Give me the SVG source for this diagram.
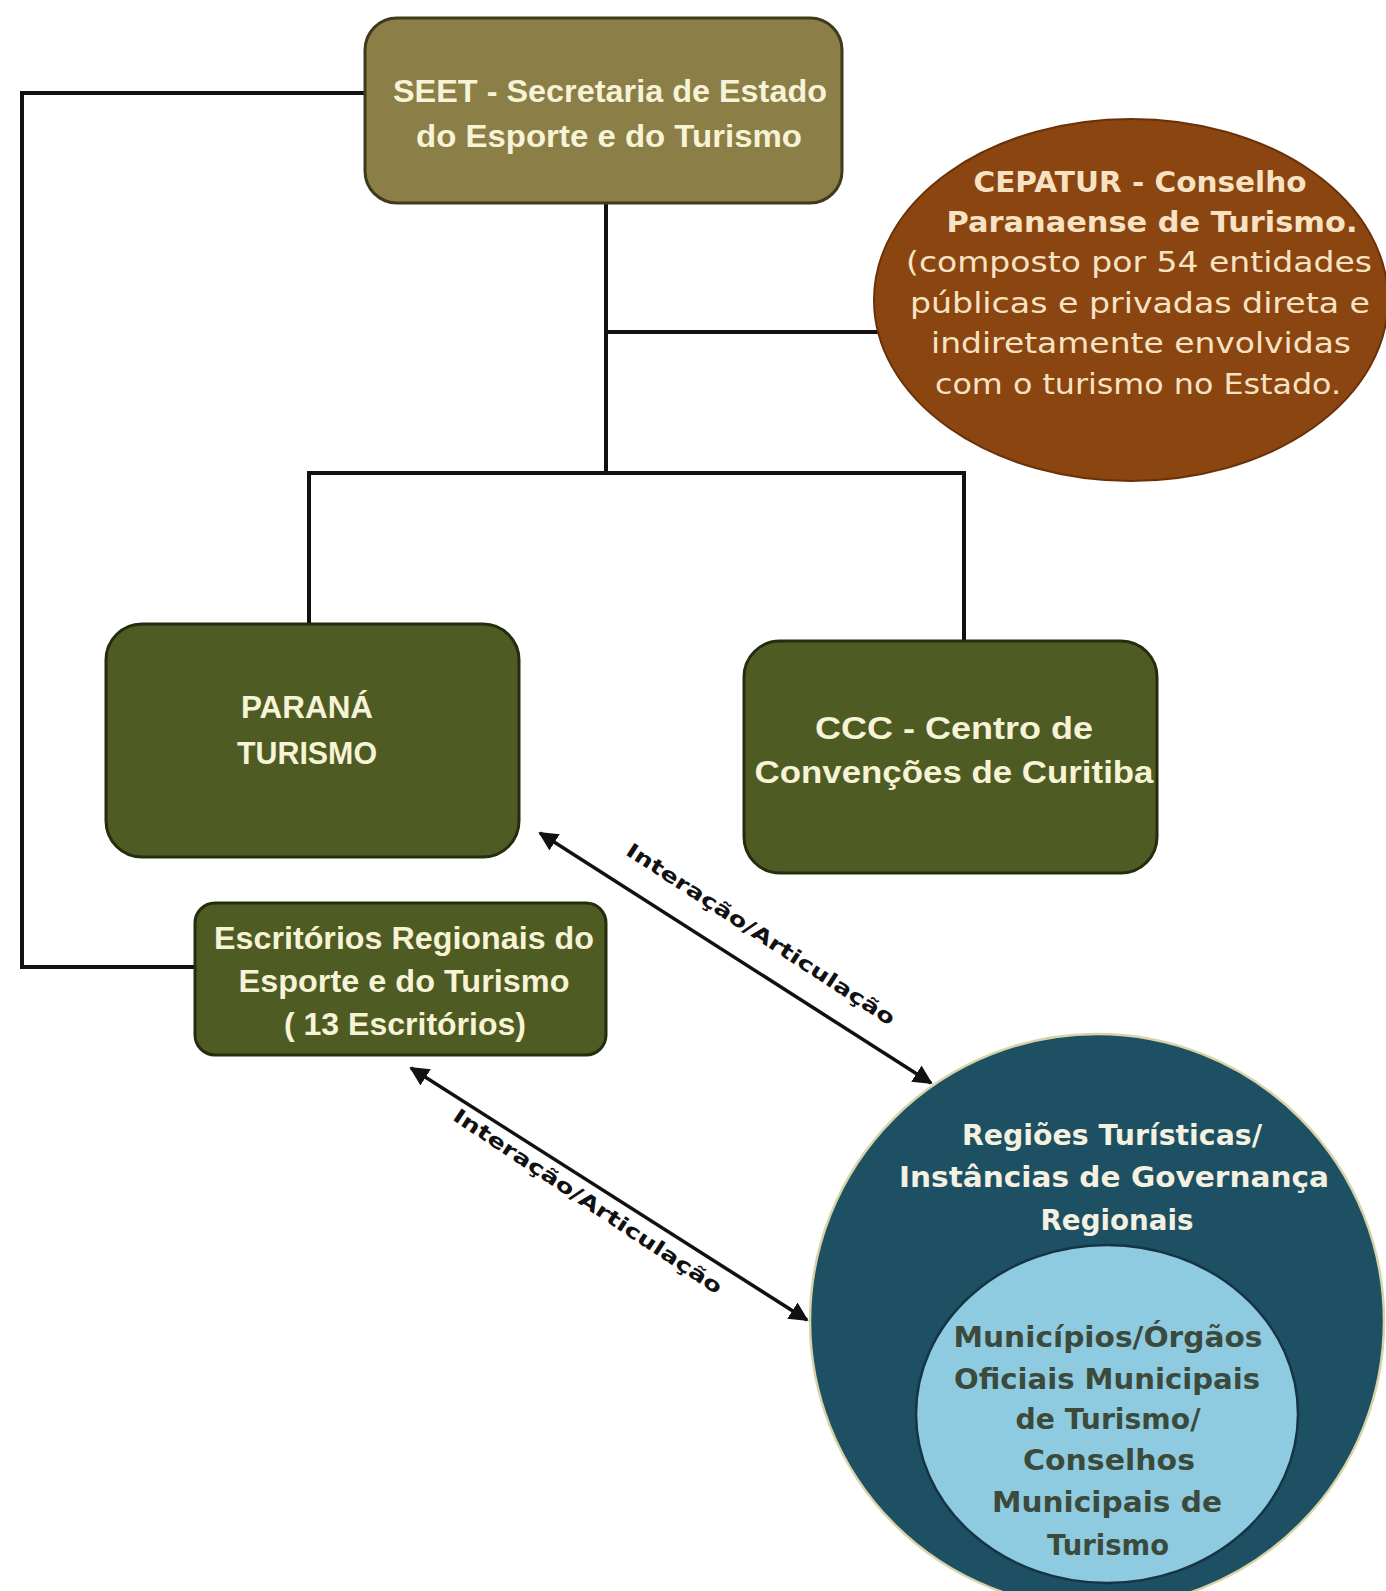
<svg xmlns="http://www.w3.org/2000/svg" width="1386" height="1591" viewBox="0 0 1386 1591">
<style>
.ln{fill:none;stroke:#111;stroke-width:4}
.ar{fill:none;stroke:#111;stroke-width:3.5}
.t{font-family:"Liberation Sans",Arial,sans-serif;font-weight:bold;text-anchor:middle}
.w{font-family:"DejaVu Sans","Liberation Sans",sans-serif;text-anchor:middle}
.seet{fill:#8b7f47;stroke:#3f3a1c;stroke-width:3}
.grn{fill:#4e5b23;stroke:#262c0e;stroke-width:3}
.lt{fill:#f6f3d6}
.lab{font-family:"DejaVu Sans","Liberation Sans",sans-serif;font-weight:bold;font-size:20px;fill:#111;text-anchor:middle}
</style>
<defs>
<marker id="ah" viewBox="0 0 10 10" refX="9" refY="5" markerWidth="5.5" markerHeight="5.5" orient="auto-start-reverse" markerUnits="strokeWidth">
<path d="M0,0 L10,5 L0,10 z" fill="#111"/>
</marker>
</defs>
<rect width="1386" height="1591" fill="#fff"/>
<g id="connectors">
<polyline class="ln" points="367,93 22,93 22,967 195,967"/>
<line class="ln" x1="606" y1="203" x2="606" y2="473"/>
<line class="ln" x1="606" y1="332" x2="878" y2="332"/>
<polyline class="ln" points="309,624 309,473 964,473 964,641"/>
<line class="ar" x1="540" y1="833" x2="931" y2="1083" marker-start="url(#ah)" marker-end="url(#ah)"/>
<line class="ar" x1="411" y1="1068" x2="807" y2="1320" marker-start="url(#ah)" marker-end="url(#ah)"/>
<text class="lab" transform="translate(757,940) rotate(33)" textLength="316" lengthAdjust="spacingAndGlyphs">Interação/Articulação</text>
<text class="lab" transform="translate(584,1207) rotate(33.5)" textLength="318" lengthAdjust="spacingAndGlyphs">Interação/Articulação</text>
</g>
<g id="seet">
<rect class="seet" x="365" y="18" width="477" height="185" rx="32"/>
<text class="t lt" font-size="32" x="610" y="102" textLength="434" lengthAdjust="spacingAndGlyphs">SEET - Secretaria de Estado</text>
<text class="t lt" font-size="32" x="609" y="147" textLength="386" lengthAdjust="spacingAndGlyphs">do Esporte e do Turismo</text>
</g>
<g id="cepatur">
<ellipse cx="1131" cy="300" rx="257" ry="181" fill="#8a4510" stroke="#6a3008" stroke-width="2"/>
<text class="w" font-size="29" font-weight="bold" fill="#f7e3c4" x="1140" y="192" textLength="333" lengthAdjust="spacingAndGlyphs">CEPATUR - Conselho</text>
<text class="w" font-size="29" font-weight="bold" fill="#f7e3c4" x="1152" y="232" textLength="411" lengthAdjust="spacingAndGlyphs">Paranaense de Turismo.</text>
<text class="w" font-size="29" fill="#f7e3c4" x="1139" y="272" textLength="466" lengthAdjust="spacingAndGlyphs">(composto por 54 entidades</text>
<text class="w" font-size="29" fill="#f7e3c4" x="1140" y="313" textLength="460" lengthAdjust="spacingAndGlyphs">públicas e privadas direta e</text>
<text class="w" font-size="29" fill="#f7e3c4" x="1141" y="353" textLength="420" lengthAdjust="spacingAndGlyphs">indiretamente envolvidas</text>
<text class="w" font-size="29" fill="#f7e3c4" x="1138" y="394" textLength="406" lengthAdjust="spacingAndGlyphs">com o turismo  no Estado.</text>
</g>
<g id="parana">
<rect class="grn" x="106" y="624" width="413" height="233" rx="36"/>
<text class="t lt" font-size="32" x="307" y="718" textLength="132" lengthAdjust="spacingAndGlyphs">PARANÁ</text>
<text class="t lt" font-size="32" x="307" y="764" textLength="140" lengthAdjust="spacingAndGlyphs">TURISMO</text>
</g>
<g id="ccc">
<rect class="grn" x="744" y="641" width="413" height="232" rx="36"/>
<text class="t lt" font-size="32" x="954" y="739" textLength="278" lengthAdjust="spacingAndGlyphs">CCC - Centro de</text>
<text class="t lt" font-size="32" x="954" y="783" textLength="399" lengthAdjust="spacingAndGlyphs">Convenções de Curitiba</text>
</g>
<g id="escritorios">
<rect class="grn" x="195" y="903" width="411" height="152" rx="20"/>
<text class="t lt" font-size="31" x="404" y="949" textLength="380" lengthAdjust="spacingAndGlyphs">Escritórios Regionais do</text>
<text class="t lt" font-size="31" x="404" y="992" textLength="331" lengthAdjust="spacingAndGlyphs">Esporte e do Turismo</text>
<text class="t lt" font-size="31" x="405" y="1035" textLength="242" lengthAdjust="spacingAndGlyphs">( 13 Escritórios)</text>
</g>
<g id="regioes">
<circle cx="1097" cy="1321" r="287" fill="#1e5064" stroke="#d8d4a8" stroke-width="2.5"/>
<text class="w" font-size="29" font-weight="bold" fill="#f4f1e0" x="1112" y="1145" textLength="300" lengthAdjust="spacingAndGlyphs">Regiões Turísticas/</text>
<text class="w" font-size="29" font-weight="bold" fill="#f4f1e0" x="1114" y="1187" textLength="430" lengthAdjust="spacingAndGlyphs">Instâncias de Governança</text>
<text class="w" font-size="29" font-weight="bold" fill="#f4f1e0" x="1117" y="1230" textLength="153" lengthAdjust="spacingAndGlyphs">Regionais</text>
</g>
<g id="municipios">
<ellipse cx="1107" cy="1414" rx="191" ry="169" fill="#8ecbe0" stroke="#163446" stroke-width="2.5"/>
<text class="w" font-size="29" font-weight="bold" fill="#3c4a3c" x="1108" y="1347" textLength="309" lengthAdjust="spacingAndGlyphs">Municípios/Órgãos</text>
<text class="w" font-size="29" font-weight="bold" fill="#3c4a3c" x="1107" y="1389" textLength="306" lengthAdjust="spacingAndGlyphs">Oficiais Municipais</text>
<text class="w" font-size="29" font-weight="bold" fill="#3c4a3c" x="1108" y="1429" textLength="185" lengthAdjust="spacingAndGlyphs">de Turismo/</text>
<text class="w" font-size="29" font-weight="bold" fill="#3c4a3c" x="1109" y="1470" textLength="172" lengthAdjust="spacingAndGlyphs">Conselhos</text>
<text class="w" font-size="29" font-weight="bold" fill="#3c4a3c" x="1107" y="1512" textLength="230" lengthAdjust="spacingAndGlyphs">Municipais de</text>
<text class="w" font-size="29" font-weight="bold" fill="#3c4a3c" x="1108" y="1555" textLength="122" lengthAdjust="spacingAndGlyphs">Turismo</text>
</g>
</svg>
